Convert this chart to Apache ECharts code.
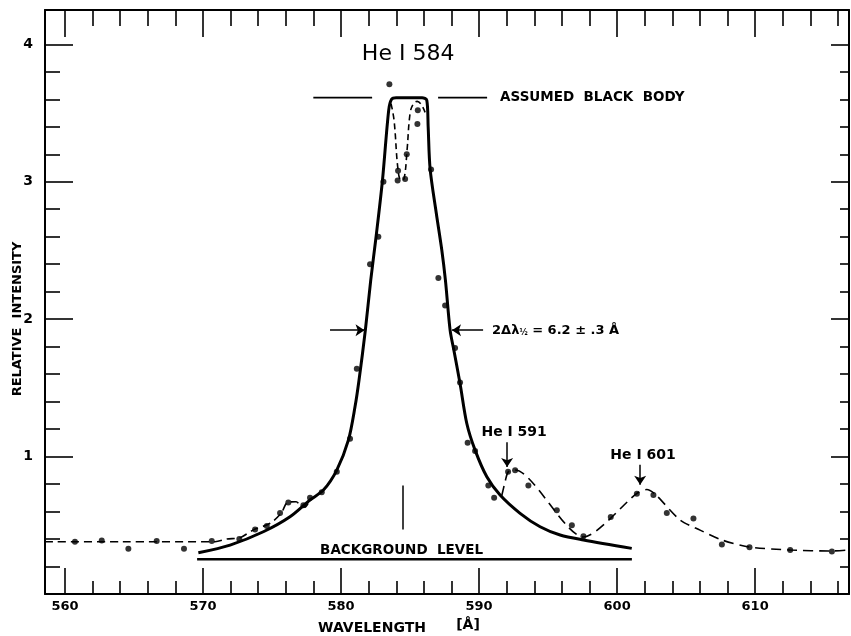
<!DOCTYPE html>
<html>
<head>
<meta charset="UTF-8">
<title>He I 584 profile</title>
<script src="https://cdn.jsdelivr.net/npm/echarts/dist/echarts.min.js"></script>
</head>
<body style="margin:0;background:#fff;">
<div id="main" style="width:851px;height:636px;"></div>
<script type="text/javascript">
// tick values
var xMajor = [560, 570, 580, 590, 600, 610];
var xMinor = [562, 564, 566, 568, 572, 574, 576, 578, 582, 584, 586, 588, 592, 594, 596, 598,
              602, 604, 606, 608, 612, 614, 616];
var yMajor = [1, 2, 3, 4];
var yMinor = [0.2, 0.4, 0.6, 0.8, 1.2, 1.4, 1.6, 1.8, 2.2, 2.4, 2.6, 2.8, 3.2, 3.4, 3.6, 3.8];

// computed profile (solid)
var theory = [
  [569.66, 0.30], [571.96, 0.356], [574.37, 0.453], [576.30, 0.562], [577.75, 0.684],
  [578.72, 0.756], [579.69, 0.902], [580.53, 1.12], [581.01, 1.362], [581.30, 1.556],
  [581.76, 1.92], [582.15, 2.284], [582.55, 2.611], [583.0, 3.011], [583.45, 3.52],
  [583.66, 3.60], [583.99, 3.612], [585.87, 3.612], [586.21, 3.593], [586.31, 3.40],
  [586.45, 3.096], [586.90, 2.771], [587.30, 2.502], [587.56, 2.284], [587.90, 1.92],
  [588.17, 1.775], [588.62, 1.532], [589.11, 1.241], [589.71, 1.047], [590.56, 0.853],
  [591.52, 0.72], [592.97, 0.587], [594.42, 0.489], [595.87, 0.429], [597.56, 0.393],
  [601.06, 0.332]
];

// observed profile (dashed), where it leaves the computed one
var observedLeft = [
  [558.55, 0.38], [564.0, 0.38], [570.87, 0.38], [571.72, 0.40], [572.68, 0.41], [573.62, 0.465],
  [574.86, 0.515], [575.65, 0.587], [576.16, 0.669], [576.74, 0.671], [577.15, 0.635],
  [577.39, 0.633], [577.75, 0.691]
];
var observedPeak = [
  [583.62, 3.569], [583.84, 3.447], [584.13, 3.084], [584.35, 3.011], [584.57, 3.025],
  [584.78, 3.229], [585.0, 3.498], [585.22, 3.564], [585.51, 3.585], [585.80, 3.564],
  [586.09, 3.505]
];
var observedRight = [
  [591.64, 0.715], [591.88, 0.815], [592.10, 0.887], [592.61, 0.902], [597.56, 0.415],
  [601.43, 0.732], [602.15, 0.76], [602.75, 0.727], [604.57, 0.538], [606.01, 0.465],
  [607.59, 0.393], [609.59, 0.342], [612.54, 0.32], [615.56, 0.313], [616.8, 0.32]
];

// measured points
var measured = [
  [560.72, 0.38], [562.66, 0.39], [564.59, 0.33], [566.64, 0.385], [568.62, 0.33],
  [570.63, 0.385], [572.63, 0.40], [573.77, 0.47], [574.62, 0.495], [575.58, 0.59],
  [576.18, 0.665], [577.27, 0.645], [577.75, 0.70], [578.6, 0.74], [579.69, 0.89],
  [580.65, 1.13], [581.14, 1.64], [582.1, 2.40], [582.7, 2.60], [583.07, 3.0], [583.5, 3.71],
  [584.1, 3.01], [584.13, 3.08], [584.64, 3.02], [584.76, 3.2], [585.53, 3.42], [585.56, 3.52],
  [586.52, 3.09], [587.05, 2.30], [587.54, 2.10], [588.26, 1.79], [588.62, 1.54],
  [589.17, 1.10], [589.71, 1.04], [590.67, 0.79], [591.09, 0.70], [592.1, 0.89],
  [592.61, 0.90], [593.57, 0.79], [595.63, 0.61], [596.72, 0.50], [597.56, 0.42],
  [599.54, 0.56], [601.43, 0.73], [602.63, 0.72], [603.6, 0.59], [605.53, 0.55],
  [607.59, 0.36], [609.59, 0.34], [612.54, 0.32], [615.56, 0.31]
];

var blackBodyLeft = [[577.99, 3.612], [582.25, 3.612]];
var blackBodyRight = [[587.03, 3.612], [590.58, 3.612]];
var background = [[569.57, 0.252], [601.07, 0.252]];

var ink = '#000';
var font = 'DejaVu Sans';
var xMin = 558.55, xMax = 616.8, yMin = 0, yMax = 4.25;

function xAx(pos, vals, len, main) {
  return {
    type: 'value', min: xMin, max: xMax, position: pos,
    axisLine: { show: main, onZero: false, lineStyle: { color: ink, width: 2 } },
    axisTick: { show: true, inside: true, length: len, customValues: vals,
                lineStyle: { color: ink, width: 1.6 } },
    axisLabel: { show: main && pos == 'bottom', customValues: vals, margin: 6, color: ink,
                 fontFamily: font, fontWeight: 'bold', fontSize: 13 },
    splitLine: { show: false }
  };
}
function yAx(pos, vals, len, main) {
  return {
    type: 'value', min: yMin, max: yMax, position: pos,
    axisLine: { show: main, onZero: false, lineStyle: { color: ink, width: 2 } },
    axisTick: { show: true, inside: true, length: len, customValues: vals,
                lineStyle: { color: ink, width: 1.6 } },
    axisLabel: { show: main && pos == 'left', customValues: vals, margin: 12, color: ink,
                 fontFamily: font, fontWeight: 'bold', fontSize: 14 },
    splitLine: { show: false }
  };
}

function txt(coord, text, size, pos) {
  return { coord: coord, value: text,
    label: { show: true, formatter: text, position: pos || 'inside', distance: 0,
             color: ink, fontFamily: font, fontWeight: 'bold', fontSize: size,
             rich: { s: { fontSize: 8, fontWeight: 'bold', fontFamily: font, color: ink, verticalAlign: 'bottom', padding: [6, 0, 0, 0] } } } };
}

var myChart = echarts.init(document.getElementById('main'));
var option = {
  animation: false,
  backgroundColor: '#fff',
  grid: { left: 45, right: 2, top: 10, bottom: 42 },
  xAxis: [
    xAx('bottom', xMajor, 26, true),
    xAx('bottom', xMinor, 13, false),
    xAx('top', xMajor, 27, true),
    xAx('top', xMinor, 16, false)
  ],
  yAxis: [
    yAx('left', yMajor, 28, true),
    yAx('left', yMinor, 15, false),
    yAx('right', yMajor, 18, true),
    yAx('right', yMinor, 9, false)
  ],
  graphic: [
    { type: 'text', x: 18, y: 319, rotation: Math.PI / 2,
      style: { text: 'RELATIVE  INTENSITY', align: 'center', verticalAlign: 'middle',
               fill: ink, font: 'bold 13px "DejaVu Sans"' } },
    { type: 'text', x: 372, y: 628,
      style: { text: 'WAVELENGTH', align: 'center', verticalAlign: 'middle',
               fill: ink, font: 'bold 14px "DejaVu Sans"' } },
    { type: 'text', x: 468, y: 625,
      style: { text: '[Å]', align: 'center', verticalAlign: 'middle',
               fill: ink, font: 'bold 14px "DejaVu Sans"' } }
  ],
  series: [
    { type: 'line', name: 'theory', data: theory, smooth: 0.3,
      symbol: 'none', lineStyle: { color: ink, width: 3 } },
    { type: 'line', data: observedLeft, smooth: 0.3, symbol: 'none',
      lineStyle: { color: ink, width: 1.6, type: [8, 5] } },
    { type: 'line', data: observedPeak, smooth: 0.4, symbol: 'none',
      lineStyle: { color: ink, width: 1.6, type: [6, 4] } },
    { type: 'line', data: observedRight, smooth: 0.25, symbol: 'none',
      lineStyle: { color: ink, width: 1.6, type: [10, 6] } },
    { type: 'line', data: blackBodyLeft, symbol: 'none', lineStyle: { color: ink, width: 1.6 } },
    { type: 'line', data: blackBodyRight, symbol: 'none', lineStyle: { color: ink, width: 1.6 } },
    { type: 'scatter', data: measured, symbol: 'circle', symbolSize: 6,
      itemStyle: { color: ink } },
    { type: 'line', data: background, symbol: 'none', lineStyle: { color: ink, width: 2.5 },
      markLine: {
        silent: true, symbol: ['none', 'arrow'], symbolSize: 9,
        label: { show: false },
        lineStyle: { color: ink, width: 1.5, type: 'solid' },
        data: [
          [{ coord: [579.2, 1.92] }, { coord: [581.70, 1.92] }],
          [{ coord: [590.29, 1.92] }, { coord: [588.04, 1.92] }],
          [{ coord: [592.03, 1.105] }, { coord: [592.03, 0.925] }],
          [{ coord: [601.67, 0.94] }, { coord: [601.67, 0.795] }],
          [{ coord: [584.47, 0.47], symbol: 'none' }, { coord: [584.47, 0.79], symbol: 'none' }]
        ]
      },
      markPoint: {
        silent: true, symbol: 'circle', symbolSize: 0,
        data: [
          (function () { var t = txt([584.86, 3.93], 'He I 584', 22); t.label.fontWeight = 'normal'; return t; })(),
          txt([591.52, 3.612], 'ASSUMED  BLACK  BODY', 13.5, 'right'),
          txt([590.94, 1.92], '2Δλ{s|½} = 6.2 ± .3 Å', 13, 'right'),
          txt([592.54, 1.178], 'He I 591', 14),
          txt([601.88, 1.011], 'He I 601', 14),
          txt([578.48, 0.313], 'BACKGROUND  LEVEL', 13.5, 'right')
        ]
      }
    }
  ]
};
myChart.setOption(option);
</script>
</body>
</html>
